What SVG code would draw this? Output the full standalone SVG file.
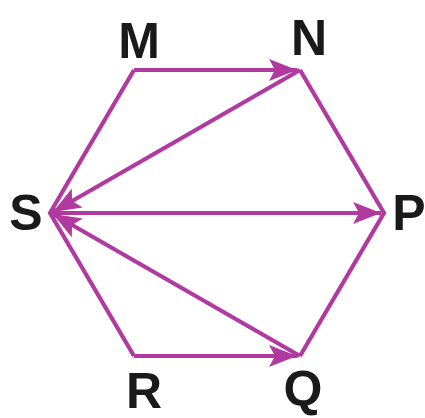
<svg xmlns="http://www.w3.org/2000/svg" width="425" height="418" viewBox="0 0 425 418">
<defs>
<style>
.edge{fill:none;stroke:#B03A9F;stroke-width:4.2;stroke-linejoin:miter;stroke-linecap:butt}
.lbl{font-family:"Liberation Sans",Arial,sans-serif;font-weight:bold;font-size:50px;fill:#1a1a1a;text-anchor:middle}
</style>
<marker id="ah" markerUnits="userSpaceOnUse" markerWidth="30" markerHeight="22" refX="28" refY="11" orient="auto">
<path d="M0,0 L28,11 L0,22 L6,11 Z" fill="#B03A9F"/>
</marker>
</defs>
<g id="hexagon">
<path class="edge" d="M300,70 L384,213 L300,356 M134,356 L50,213 L134,70"/>
</g>
<g id="connectors">
<line class="edge" x1="134" y1="70" x2="297" y2="70" marker-end="url(#ah)"/>
<line class="edge" x1="300" y1="70" x2="53" y2="212" marker-end="url(#ah)"/>
<line class="edge" x1="50" y1="213" x2="381" y2="213" marker-end="url(#ah)"/>
<line class="edge" x1="300" y1="356" x2="53" y2="214" marker-end="url(#ah)"/>
<line class="edge" x1="134" y1="356" x2="297" y2="356" marker-end="url(#ah)"/>
</g>
<g id="node-M"><text class="lbl" x="139" y="58">M</text></g>
<g id="node-N"><text class="lbl" x="309" y="55">N</text></g>
<g id="node-S"><text class="lbl" x="26" y="230">S</text></g>
<g id="node-P"><text class="lbl" x="409" y="230">P</text></g>
<g id="node-R"><text class="lbl" x="144" y="408">R</text></g>
<g id="node-Q"><text class="lbl" x="303" y="406">Q</text></g>
</svg>
